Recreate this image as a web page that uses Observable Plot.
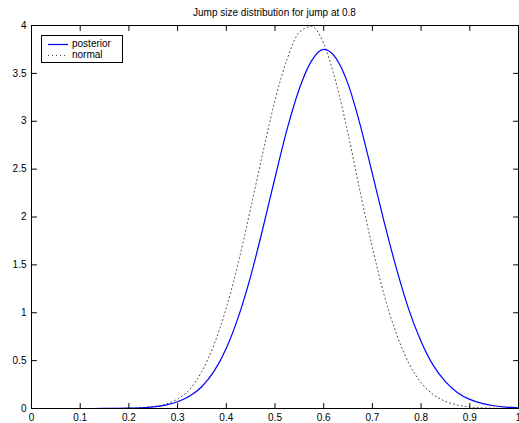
<!DOCTYPE html>
<html><head><meta charset="utf-8">
<script src="https://cdn.jsdelivr.net/npm/d3@7"></script>
<script src="https://cdn.jsdelivr.net/npm/@observablehq/plot@0.6"></script>
<style>
body{margin:0;background:#fff;font-family:"Liberation Sans",Arial,sans-serif;}
#wrap{position:relative;width:519px;height:423px;}
#title{position:absolute;left:31px;width:487px;top:7px;text-align:center;font-size:10px;line-height:12px;color:#000;}
#legend{position:absolute;left:41px;top:35px;width:82px;height:28px;border:1px solid #000;background:#fff;font-size:10px;box-sizing:border-box;color:#000;}
#legend .row{position:absolute;left:0;height:12px;line-height:12px;}
#legend svg{position:absolute;left:6px;top:0;}
#legend span{position:absolute;left:30px;white-space:nowrap;}
</style></head><body>
<div id="wrap"><div id="chart"></div><div id="title"></div><div id="legend"></div></div>
<script>
const titleText = "Jump size distribution for jump at 0.8";
const seriesNames = ["posterior", "normal"];
const xValues = [0,0.05,0.1,0.15,0.2,0.225,0.25,0.275,0.3,0.325,0.35,0.375,0.4,0.425,0.45,0.475,0.5,0.525,0.55,0.575,0.6,0.625,0.65,0.675,0.7,0.725,0.75,0.775,0.8,0.825,0.85,0.875,0.9,0.925,0.95,0.975,1];
const posterior = [0,0,0,0.0005,0.003,0.007,0.016,0.035,0.07,0.13,0.23,0.39,0.63,0.96,1.38,1.88,2.41,2.92,3.34,3.63,3.75,3.66,3.39,2.96,2.45,1.93,1.45,1.03,0.7,0.45,0.28,0.165,0.095,0.053,0.029,0.015,0.007];
const normal = [0,0,0,0,0.003,0.008,0.02,0.045,0.1,0.2,0.39,0.67,1.05,1.53,2.09,2.67,3.22,3.65,3.93,3.99,3.81,3.41,2.87,2.26,1.68,1.17,0.77,0.47,0.27,0.145,0.075,0.036,0.016,0.007,0.003,0.001,0];
const xTicks = [0,0.1,0.2,0.3,0.4,0.5,0.6,0.7,0.8,0.9,1];
const yTicks = [0,0.5,1,1.5,2,2.5,3,3.5,4];

const rows = [];
xValues.forEach((x,i)=>{
  rows.push({series: seriesNames[0], x, y: posterior[i]});
  rows.push({series: seriesNames[1], x, y: normal[i]});
});
const tickShape = {draw(ctx, l){ ctx.moveTo(0,0); ctx.lineTo(0,-l); }};
const tk = {anchor:"start", length:5, shape: tickShape, stroke:"black", strokeWidth:1};

const chart = Plot.plot({
  width: 519, height: 423,
  marginLeft: 31, marginRight: 1, marginTop: 25, marginBottom: 15,
  x: {domain:[0,1]},
  y: {domain:[0,4]},
  style: {fontFamily:'"Liberation Sans", Arial, sans-serif', fontSize:"10px", color:"black", background:"white", overflow:"visible"},
  marks: [
    Plot.axisX(xTicks, {tickSize:0, tickPadding:5, label:null, tickFormat: d=>String(d), fontSize:10}),
    Plot.axisY(yTicks, {tickSize:0, tickPadding:5, label:null, tickFormat: d=>String(d), fontSize:10}),
    Plot.line(rows.filter(d=>d.series==="normal"), {x:"x", y:"y", stroke:"#444", strokeWidth:1, strokeDasharray:"1,3", curve:"monotone-x", clip:true}),
    Plot.line(rows.filter(d=>d.series==="posterior"), {x:"x", y:"y", stroke:"#0000ff", strokeWidth:1.2, curve:"monotone-x", clip:true}),
    Plot.vector(xTicks, {x:d=>d, frameAnchor:"bottom", rotate:0, ...tk}),
    Plot.vector(xTicks, {x:d=>d, frameAnchor:"top", rotate:180, ...tk}),
    Plot.vector(yTicks, {y:d=>d, frameAnchor:"left", rotate:90, ...tk}),
    Plot.vector(yTicks, {y:d=>d, frameAnchor:"right", rotate:-90, ...tk}),
    Plot.frame({stroke:"black", strokeWidth:1})
  ]
});
document.getElementById("chart").appendChild(chart);
document.getElementById("title").textContent = titleText;

const leg = document.getElementById("legend");
const styles = [
  {stroke:"#0000ff", dash:null, top:2},
  {stroke:"#444", dash:"1,3", top:13}
];
seriesNames.forEach((name,i)=>{
  const r = document.createElement("div");
  r.className = "row";
  r.style.top = styles[i].top + "px";
  r.style.width = "80px";
  r.innerHTML = `<svg width="22" height="12"><line x1="0" x2="20" y1="6.5" y2="6.5" stroke="${styles[i].stroke}" stroke-width="1.2" ${styles[i].dash ? `stroke-dasharray="${styles[i].dash}"` : ""}/></svg><span>${name}</span>`;
  leg.appendChild(r);
});
</script>
</body></html>
